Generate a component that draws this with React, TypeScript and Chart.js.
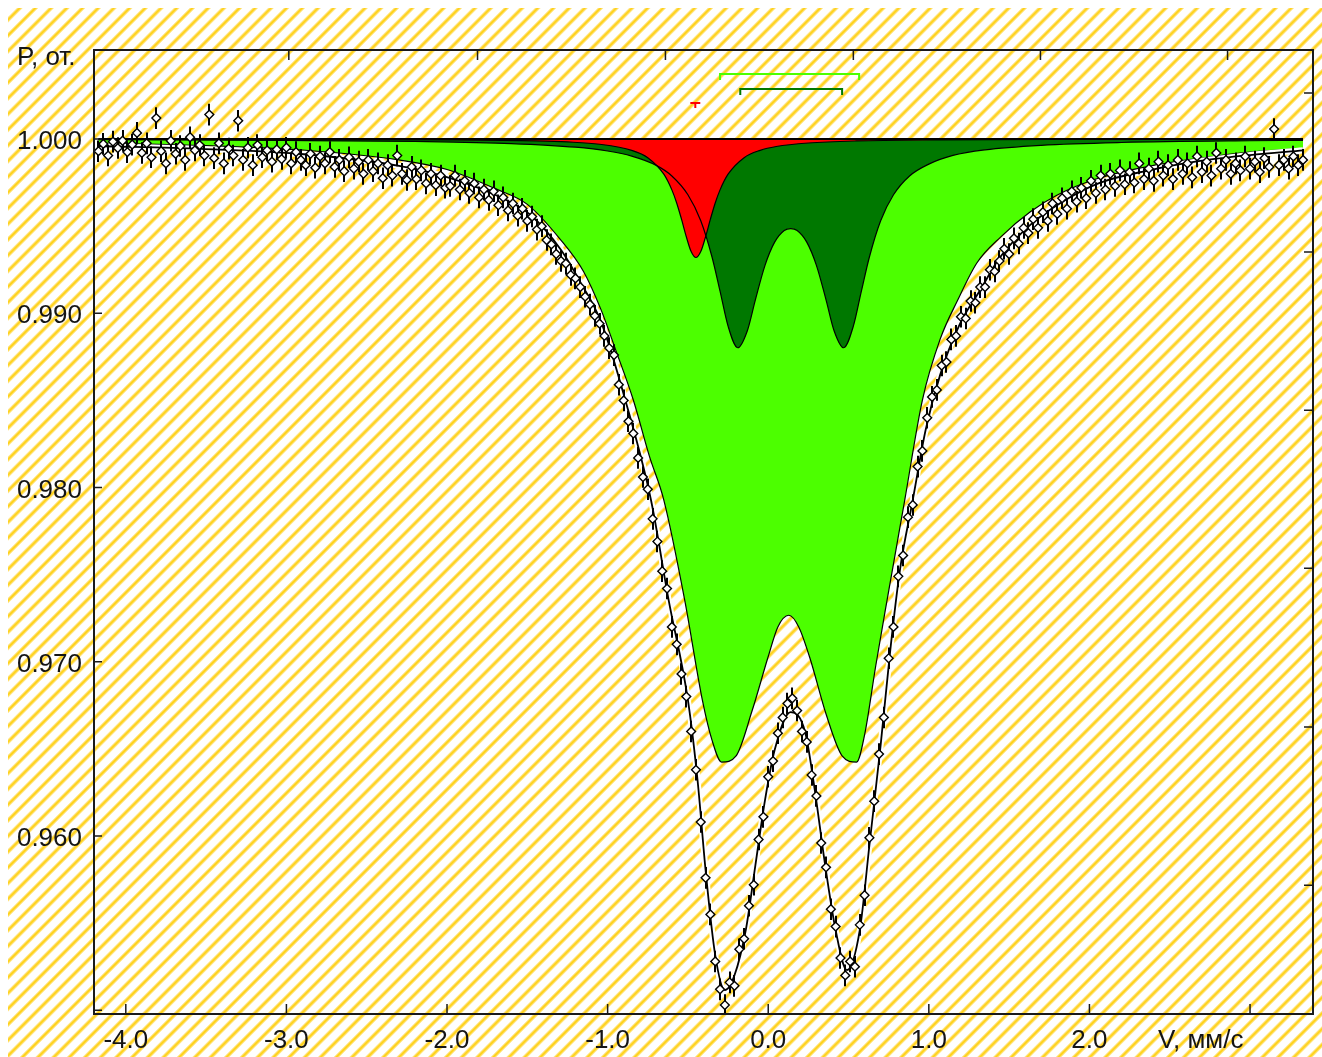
import React, { useEffect, useRef } from "react";
import { Chart, registerables } from "chart.js";

Chart.register(...registerables);

// ---- measured spectrum (velocity, mm/s; relative transmission) ----
const VELOCITY = [
  -4.17, -4.14, -4.11, -4.08, -4.05, -4.02, -3.99, -3.96, -3.93, -3.9,
  -3.87, -3.84, -3.81, -3.78, -3.75, -3.72, -3.69, -3.66, -3.63, -3.6,
  -3.57, -3.54, -3.51, -3.48, -3.45, -3.42, -3.39, -3.36, -3.33, -3.3,
  -3.27, -3.24, -3.21, -3.18, -3.15, -3.12, -3.09, -3.06, -3.03, -3.0,
  -2.97, -2.94, -2.91, -2.88, -2.85, -2.82, -2.79, -2.76, -2.73, -2.7,
  -2.67, -2.64, -2.61, -2.58, -2.55, -2.52, -2.49, -2.46, -2.43, -2.4,
  -2.37, -2.34, -2.31, -2.28, -2.25, -2.22, -2.19, -2.16, -2.13, -2.1,
  -2.07, -2.04, -2.01, -1.98, -1.95, -1.92, -1.89, -1.86, -1.83, -1.8,
  -1.77, -1.74, -1.71, -1.68, -1.65, -1.62, -1.59, -1.56, -1.53, -1.5,
  -1.47, -1.44, -1.41, -1.38, -1.35, -1.32, -1.29, -1.26, -1.23, -1.2,
  -1.17, -1.14, -1.11, -1.08, -1.05, -1.02, -0.99, -0.96, -0.93, -0.9,
  -0.87, -0.84, -0.81, -0.78, -0.75, -0.72, -0.69, -0.66, -0.63, -0.6,
  -0.57, -0.54, -0.51, -0.48, -0.45, -0.42, -0.39, -0.36, -0.33, -0.3,
  -0.27, -0.24, -0.21, -0.18, -0.15, -0.12, -0.09, -0.06, -0.03, 0.0,
  0.03, 0.06, 0.09, 0.12, 0.15, 0.18, 0.21, 0.24, 0.27, 0.3,
  0.33, 0.36, 0.39, 0.42, 0.45, 0.48, 0.51, 0.54, 0.57, 0.6,
  0.63, 0.66, 0.69, 0.72, 0.75, 0.78, 0.81, 0.84, 0.87, 0.9,
  0.93, 0.96, 0.99, 1.02, 1.05, 1.08, 1.11, 1.14, 1.17, 1.2,
  1.23, 1.26, 1.29, 1.32, 1.35, 1.38, 1.41, 1.44, 1.47, 1.5,
  1.53, 1.56, 1.59, 1.62, 1.65, 1.68, 1.71, 1.74, 1.77, 1.8,
  1.83, 1.86, 1.89, 1.92, 1.95, 1.98, 2.01, 2.04, 2.07, 2.1,
  2.13, 2.16, 2.19, 2.22, 2.25, 2.28, 2.31, 2.34, 2.37, 2.4,
  2.43, 2.46, 2.49, 2.52, 2.55, 2.58, 2.61, 2.64, 2.67, 2.7,
  2.73, 2.76, 2.79, 2.82, 2.85, 2.88, 2.91, 2.94, 2.97, 3.0,
  3.03, 3.06, 3.09, 3.12, 3.15, 3.18, 3.21, 3.24, 3.27, 3.3,
  3.33,
];

const ABSORPTION = [
  0.9993, 0.99972, 0.99905, 0.99985, 0.99948, 0.9999, 0.99925, 0.99968, 1.00035, 0.9992,
  0.99975, 0.99895, 1.0012, 0.9993, 0.9986, 0.9999, 0.99915, 0.9996, 0.9988, 1.0001,
  0.99935, 0.99965, 0.99905, 1.0014, 0.9989, 0.99975, 0.9986, 0.99945, 0.99905, 1.00105,
  0.9988, 0.9995, 0.9985, 0.99965, 0.99895, 0.99935, 0.9987, 0.9994, 0.99885, 0.9995,
  0.9986, 0.99925, 0.9988, 0.9985, 0.99915, 0.99835, 0.999, 0.9986, 0.99925, 0.9984,
  0.9988, 0.99815, 0.99895, 0.9983, 0.9987, 0.998, 0.9988, 0.99815, 0.9986, 0.99775,
  0.9985, 0.9979, 0.99905, 0.998, 0.99765, 0.9984, 0.9977, 0.9982, 0.99745, 0.998,
  0.99735, 0.9979, 0.9972, 0.9973, 0.9979, 0.9971, 0.9976, 0.9969, 0.99745, 0.99665,
  0.9971, 0.9965, 0.997, 0.9962, 0.99665, 0.9959, 0.9963, 0.9956, 0.996, 0.9953,
  0.99555, 0.9948, 0.995, 0.9942, 0.99395, 0.9934, 0.993, 0.99285, 0.9922, 0.992,
  0.9915, 0.99095, 0.9905, 0.98985, 0.9894, 0.9887, 0.988, 0.9876, 0.9859, 0.985,
  0.9838, 0.9831, 0.9817, 0.9806, 0.9799, 0.9782, 0.9769, 0.9752, 0.9742, 0.972,
  0.971, 0.9693, 0.968, 0.966, 0.9638, 0.9608, 0.9576, 0.9555, 0.9528, 0.9512,
  0.9503, 0.9516, 0.9514, 0.9535, 0.9541, 0.956, 0.9572, 0.9598, 0.9611, 0.9634,
  0.9643, 0.9659, 0.9668, 0.9676, 0.9679, 0.9672, 0.966, 0.9654, 0.9635, 0.9623,
  0.9596, 0.9582, 0.9558, 0.9548, 0.953, 0.952, 0.9528, 0.9525, 0.9549, 0.9566,
  0.9599, 0.962, 0.9647, 0.9668, 0.9702, 0.972, 0.9749, 0.9761, 0.9783, 0.979,
  0.9812, 0.9821, 0.984, 0.9852, 0.9856, 0.987, 0.9872, 0.9885, 0.9887, 0.9898,
  0.9897, 0.9907, 0.9906, 0.9915, 0.9915, 0.9925, 0.9924, 0.993, 0.9937, 0.9934,
  0.9943, 0.994, 0.9949, 0.9946, 0.9954, 0.9949, 0.9958, 0.9953, 0.9963, 0.9957,
  0.9966, 0.996, 0.997, 0.9964, 0.9972, 0.9966, 0.9976, 0.9969, 0.9979, 0.9971,
  0.998, 0.9973, 0.9982, 0.9974, 0.9981, 0.9975, 0.9986, 0.9977, 0.9983, 0.9976,
  0.9987, 0.9979, 0.9985, 0.9977, 0.9988, 0.998, 0.9986, 0.9978, 0.999, 0.9981,
  0.9987, 0.9979, 0.9992, 0.9983, 0.9988, 0.998, 0.9986, 0.9982, 0.999, 0.9983,
  0.9987, 0.9981, 0.9989, 0.9984, 1.00057, 0.9985, 0.9988, 0.9983, 0.999, 0.9985,
  0.9988,
];

const ERROR = 0.00062;

// ---- total fit ----
const FIT_V = [-4.17, -3.53, -2.91, -2.29, -1.98, -1.67, -1.48, -1.29, -1.17, -1.04, -0.89, -0.73, -0.62, -0.5, -0.44, -0.39, -0.33, -0.27, -0.21, -0.14, -0.08, -0.02, 0.04, 0.14, 0.23, 0.29, 0.35, 0.42, 0.49, 0.57, 0.63, 0.7, 0.76, 0.82, 0.9, 0.98, 1.07, 1.19, 1.32, 1.44, 1.63, 1.82, 2.06, 2.38, 2.69, 3.0, 3.33];
const FIT_P = [0.9996, 0.99943, 0.99914, 0.99845, 0.99776, 0.99667, 0.99564, 0.99363, 0.99179, 0.98949, 0.98502, 0.97928, 0.97354, 0.9678, 0.9632, 0.95804, 0.95316, 0.95115, 0.95201, 0.95459, 0.95832, 0.96206, 0.96493, 0.96711, 0.96596, 0.96263, 0.95861, 0.95459, 0.9523, 0.95459, 0.95947, 0.96521, 0.97067, 0.97526, 0.97928, 0.9833, 0.98645, 0.98932, 0.99133, 0.99317, 0.99506, 0.99633, 0.99747, 0.99822, 0.99874, 0.99908, 0.99935];

// ---- sub-spectrum 1 (light green doublet) ----
const LG_V = [-4.17, -3.5, -2.9, -2.3, -2.0, -1.7, -1.5, -1.3, -1.15, -1.04, -0.95, -0.84, -0.74, -0.65, -0.52, -0.41, -0.35, -0.29, -0.2, -0.1, 0.0, 0.06, 0.128, 0.19, 0.26, 0.36, 0.46, 0.55, 0.6, 0.67, 0.74, 0.85, 0.96, 1.07, 1.18, 1.3, 1.45, 1.63, 1.8, 2.06, 2.38, 2.7, 3.0, 3.33];
const LG_P = [0.99977, 0.99962, 0.99937, 0.9988, 0.99825, 0.99715, 0.99625, 0.9943, 0.9924, 0.99018, 0.9879, 0.98502, 0.9818, 0.97928, 0.97354, 0.9678, 0.9655, 0.96424, 0.9646, 0.9672, 0.9703, 0.972, 0.97267, 0.972, 0.9702, 0.967, 0.9646, 0.96424, 0.9658, 0.9698, 0.97354, 0.97928, 0.98502, 0.9885, 0.99076, 0.9929, 0.9944, 0.99581, 0.99679, 0.99776, 0.99845, 0.99891, 0.99925, 0.99946];

// ---- sub-spectrum 2 (dark green doublet) ----
const DG_V = [-4.17, -3.0, -2.2, -1.6, -1.2, -1.0, -0.85, -0.7, -0.6, -0.5, -0.42, -0.35, -0.3, -0.25, -0.19, -0.13, -0.08, -0.02, 0.04, 0.1, 0.14, 0.18, 0.24, 0.3, 0.36, 0.41, 0.47, 0.53, 0.58, 0.63, 0.7, 0.78, 0.88, 1.0, 1.15, 1.35, 1.7, 2.2, 3.0, 3.33];
const DG_P = [0.99996, 0.99992, 0.99986, 0.99974, 0.99953, 0.99931, 0.99902, 0.9985, 0.99788, 0.9968, 0.99531, 0.99323, 0.99127, 0.98926, 0.98802, 0.989, 0.99077, 0.99275, 0.99408, 0.99475, 0.99486, 0.99475, 0.99408, 0.99275, 0.99077, 0.989, 0.98802, 0.98926, 0.99127, 0.99323, 0.99531, 0.9968, 0.99788, 0.99856, 0.99906, 0.99938, 0.99964, 0.9998, 0.9999, 0.99992];

// ---- sub-spectrum 3 (red singlet) ----
const RED_V = [-4.17, -3.0, -2.0, -1.45, -1.25, -1.05, -0.85, -0.75, -0.65, -0.6, -0.57, -0.54, -0.51, -0.48, -0.45, -0.42, -0.39, -0.36, -0.33, -0.3, -0.25, -0.15, -0.05, 0.05, 0.25, 0.55, 1.05, 2.0, 3.33];
const RED_P = [0.99999, 0.99998, 0.99995, 0.99989, 0.99983, 0.9997, 0.99935, 0.99893, 0.99798, 0.99708, 0.99633, 0.9954, 0.99439, 0.99354, 0.9932, 0.99354, 0.99439, 0.9954, 0.99633, 0.99708, 0.99798, 0.99893, 0.99935, 0.99957, 0.99977, 0.99989, 0.99995, 0.99998, 0.99999];

// ---- line-position markers above the spectrum ----
const LG_LINES = [-0.3, 0.566];
const LG_MARK_Y = [1.00339, 1.00373];
const DG_LINES = [-0.174, 0.46];
const DG_MARK_Y = [1.00253, 1.00287];
const RED_LINE = [-0.485, -0.454, -0.423];
const RED_MARK_Y = [1.00178, 1.00207];

const BASELINE_V = [-4.17, 3.33];
const BASELINE_P = 1.0;

// ---- axes ----
const X_MIN = -4.198;
const X_MAX = 3.392;
const Y_MIN = 0.949785;
const Y_MAX = 1.005108;
const X_TICKS = [-4, -3, -2, -1, 0, 1, 2, 3];
const X_LABELS = ["-4.0", "-3.0", "-2.0", "-1.0", "0.0", "1.0", "2.0", ""];
const Y_TICKS = [1.0, 0.99, 0.98, 0.97, 0.96, 0.95];
const Y_LABELS = ["1.000", "0.990", "0.980", "0.970", "0.960", ""];
const TOP_TICKS = [-2.985, -1.81, -0.64, 0.53, 1.695, 2.86];
const RIGHT_TICKS = [1.00264, 0.99351, 0.98444, 0.97537, 0.96625, 0.95718];
const Y_TITLE = "P, от.";
const X_TITLE = "V, мм/с";

const COLORS = {
  lightGreen: "#4cff00",
  darkGreen: "#007800",
  red: "#ff0000",
  line: "#000000",
};

const FONT = '26px "Liberation Sans", Arial, sans-serif';

function pts(xs: number[], ys: number[]) {
  return xs.map((x, i) => ({ x, y: ys[i] }));
}

const errorBarPlugin = {
  id: "errorBars",
  beforeDatasetDraw(chart: any, args: any) {
    if (args.meta.label !== "data") return;
    const { ctx, chartArea: a, scales } = chart;
    const xs = scales.x;
    const ys = scales.y;
    ctx.save();
    ctx.beginPath();
    ctx.rect(a.left, a.top, a.right - a.left, a.bottom - a.top);
    ctx.clip();
    ctx.strokeStyle = "#000";
    ctx.lineWidth = 2;
    ctx.beginPath();
    VELOCITY.forEach((v, i) => {
      const px = Math.round(xs.getPixelForValue(v));
      ctx.moveTo(px, ys.getPixelForValue(ABSORPTION[i] + ERROR));
      ctx.lineTo(px, ys.getPixelForValue(ABSORPTION[i] - ERROR));
    });
    ctx.stroke();
    ctx.restore();
  },
};

const framePlugin = {
  id: "frame",
  afterDraw(chart: any) {
    const { ctx, chartArea: a, scales } = chart;
    const xs = scales.x;
    const ys = scales.y;
    ctx.save();
    ctx.strokeStyle = "#1a1a1a";
    ctx.lineWidth = 2;
    ctx.strokeRect(a.left, a.top, a.right - a.left, a.bottom - a.top);
    ctx.lineWidth = 1.5;
    ctx.beginPath();
    X_TICKS.forEach((v) => {
      const px = xs.getPixelForValue(v);
      ctx.moveTo(px, a.bottom);
      ctx.lineTo(px, a.bottom - 10);
    });
    TOP_TICKS.forEach((v) => {
      const px = xs.getPixelForValue(v);
      ctx.moveTo(px, a.top);
      ctx.lineTo(px, a.top + 10);
    });
    Y_TICKS.forEach((v) => {
      const py = ys.getPixelForValue(v);
      ctx.moveTo(a.left, py);
      ctx.lineTo(a.left + 8, py);
    });
    RIGHT_TICKS.forEach((v) => {
      const py = ys.getPixelForValue(v);
      ctx.moveTo(a.right, py);
      ctx.lineTo(a.right - 9, py);
    });
    ctx.stroke();

    ctx.fillStyle = "#151515";
    ctx.font = FONT;
    ctx.textBaseline = "alphabetic";
    ctx.textAlign = "center";
    X_TICKS.forEach((v, i) => {
      if (X_LABELS[i]) ctx.fillText(X_LABELS[i], xs.getPixelForValue(v), a.bottom + 34);
    });
    ctx.textAlign = "right";
    Y_TICKS.forEach((v, i) => {
      if (Y_LABELS[i]) ctx.fillText(Y_LABELS[i], a.left - 12, ys.getPixelForValue(v) + 10);
    });
    ctx.textAlign = "left";
    ctx.fillText(Y_TITLE, 17, a.top + 15);
    ctx.fillText(X_TITLE, 1158, a.bottom + 34);
    ctx.restore();
  },
};

export default function App() {
  const canvasRef = useRef<HTMLCanvasElement | null>(null);

  useEffect(() => {
    const canvas = canvasRef.current;
    if (!canvas) return;

    const curve = (label: string, xs: number[], ys: number[], color: string, order: number) => ({
      type: "line" as const,
      label,
      data: pts(xs, ys),
      showLine: true,
      borderColor: COLORS.line,
      borderWidth: 1.2,
      backgroundColor: color,
      fill: { value: 1.0 },
      pointRadius: 0,
      cubicInterpolationMode: "monotone" as const,
      order,
    });

    const marker = (label: string, data: any[], color: string) => ({
      type: "line" as const,
      label,
      data,
      showLine: true,
      borderColor: color,
      borderWidth: 2,
      pointRadius: 0,
      fill: false,
      tension: 0,
      spanGaps: false,
      order: 2,
    });

    const chart = new Chart(canvas, {
      type: "scatter",
      data: {
        datasets: [
          {
            label: "data",
            data: pts(VELOCITY, ABSORPTION),
            pointStyle: "rectRot",
            pointRadius: 4.4,
            pointBackgroundColor: "#ffffff",
            pointBorderColor: "#000000",
            pointBorderWidth: 1.4,
            showLine: false,
            order: 0,
          } as any,
          {
            type: "line",
            label: "fit",
            data: pts(FIT_V, FIT_P),
            showLine: true,
            borderColor: COLORS.line,
            borderWidth: 1.8,
            pointRadius: 0,
            fill: false,
            cubicInterpolationMode: "monotone",
            order: 1,
          } as any,
          {
            type: "line",
            label: "fitHalo",
            data: pts(FIT_V, FIT_P),
            showLine: true,
            borderColor: "#ffffff",
            borderWidth: 6,
            pointRadius: 0,
            fill: false,
            cubicInterpolationMode: "monotone",
            order: 1.5,
          } as any,
          marker(
            "lgMark",
            [
              { x: LG_LINES[0], y: LG_MARK_Y[0] },
              { x: LG_LINES[0], y: LG_MARK_Y[1] },
              { x: LG_LINES[1], y: LG_MARK_Y[1] },
              { x: LG_LINES[1], y: LG_MARK_Y[0] },
            ],
            COLORS.lightGreen
          ),
          marker(
            "dgMark",
            [
              { x: DG_LINES[0], y: DG_MARK_Y[0] },
              { x: DG_LINES[0], y: DG_MARK_Y[1] },
              { x: DG_LINES[1], y: DG_MARK_Y[1] },
              { x: DG_LINES[1], y: DG_MARK_Y[0] },
            ],
            COLORS.darkGreen
          ),
          marker(
            "redMark",
            [
              { x: RED_LINE[0], y: RED_MARK_Y[1] },
              { x: RED_LINE[2], y: RED_MARK_Y[1] },
              { x: RED_LINE[2], y: null },
              { x: RED_LINE[1], y: RED_MARK_Y[1] },
              { x: RED_LINE[1], y: RED_MARK_Y[0] },
            ],
            COLORS.red
          ),
          {
            type: "line",
            label: "baseline",
            data: BASELINE_V.map((x) => ({ x, y: BASELINE_P })),
            showLine: true,
            borderColor: COLORS.line,
            borderWidth: 2,
            pointRadius: 0,
            fill: false,
            order: 2,
          } as any,
          curve("red", RED_V, RED_P, COLORS.red, 3),
          curve("darkGreen", DG_V, DG_P, COLORS.darkGreen, 4),
          curve("lightGreen", LG_V, LG_P, COLORS.lightGreen, 5),
        ],
      },
      options: {
        responsive: false,
        animation: false,
        devicePixelRatio: 1,
        layout: { padding: { left: 94, top: 50, right: 9, bottom: 43 } },
        scales: {
          x: { type: "linear", min: X_MIN, max: X_MAX, display: false },
          y: { type: "linear", min: Y_MIN, max: Y_MAX, display: false },
        },
        plugins: {
          legend: { display: false },
          tooltip: { enabled: false },
          filler: { drawTime: "beforeDatasetsDraw" } as any,
        },
      } as any,
      plugins: [errorBarPlugin, framePlugin],
    });

    return () => chart.destroy();
  }, []);

  return (
    <div style={{ position: "relative", width: 1322, height: 1057, overflow: "hidden", background: "#ffffff" }}>
      <style>{"body{margin:0}"}</style>
      <div
        style={{
          position: "absolute",
          left: 8,
          top: 8,
          right: 0,
          bottom: 0,
          background:
            "repeating-linear-gradient(-45deg, #ffffff 0px, #ffffff 6.2px, #ffe27a 7.2px, #ffd21a 8.4px, #ffd21a 9.0px, #ffe27a 10.1px, #ffffff 11.1px)",
        }}
      />
      <canvas ref={canvasRef} width={1322} height={1057} style={{ position: "absolute", left: 0, top: 0 }} />
    </div>
  );
}
